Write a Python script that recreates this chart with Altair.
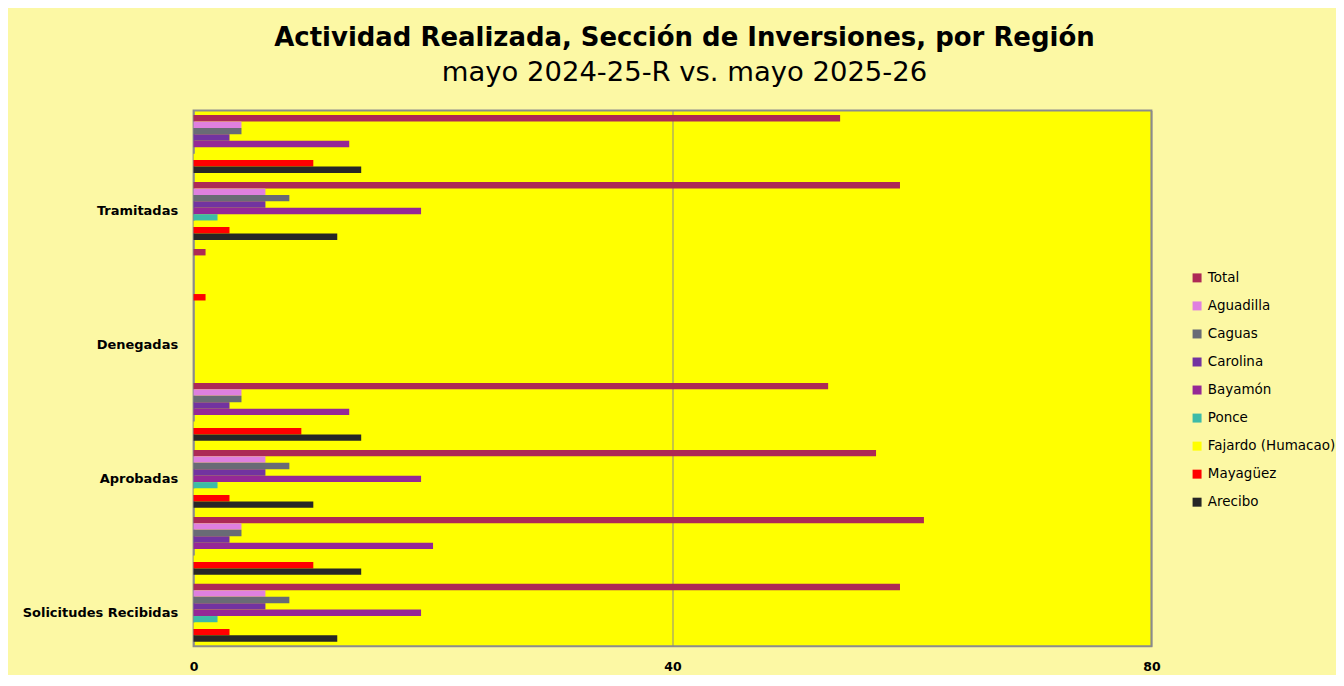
import altair as alt
import pandas as pd

# ---- data ----
categories = ["Solicitudes Recibidas", "Aprobadas", "Denegadas", "Tramitadas"]
periods = ["mayo 2024-25-R", "mayo 2025-26"]

regions = ["Total", "Aguadilla", "Caguas", "Carolina", "Bayamón", "Ponce",
           "Fajardo (Humacao)", "Mayagüez", "Arecibo"]
colors = ["#AD2A55", "#DF80DF", "#696B75", "#7233A0", "#952896", "#3DBBA8",
          "#FFFF00", "#FF0000", "#262626"]

# rows bottom -> top: Sol 24-25, Sol 25-26, Apr 24-25, Apr 25-26,
#                     Den 24-25, Den 25-26, Tra 24-25, Tra 25-26
total     = [59, 61, 57, 53, 0, 1, 59, 54]
aguadilla = [6, 4, 6, 4, 0, 0, 6, 4]
caguas    = [8, 4, 8, 4, 0, 0, 8, 4]
carolina  = [6, 3, 6, 3, 0, 0, 6, 3]
bayamon   = [19, 20, 19, 13, 0, 0, 19, 13]
ponce     = [2, 0, 2, 0, 0, 0, 2, 0]
fajardo   = [3, 6, 3, 6, 0, 0, 3, 6]
mayaguez  = [3, 10, 3, 9, 0, 1, 3, 10]
arecibo   = [12, 14, 10, 14, 0, 0, 12, 14]

x_ticks = [0, 40, 80]

series = [total, aguadilla, caguas, carolina, bayamon, ponce, fajardo, mayaguez, arecibo]
row_keys = [f"{c}|{p}" for c in categories for p in periods]

records = []
for reg, vals in zip(regions, series):
    for key, v in zip(row_keys, vals):
        records.append({"fila": key, "region": reg, "valor": v})
df = pd.DataFrame(records)

row_order_top_down = list(reversed(row_keys))

label_expr = "indexof(datum.label, '2024-25-R') >= 0 ? split(datum.label, '|')[0] : ''"

chart = alt.Chart(df).mark_bar().encode(
    x=alt.X("valor:Q",
            scale=alt.Scale(domain=[0, 80], nice=False),
            axis=alt.Axis(values=x_ticks, title=None, grid=True, gridColor="#8C8C8C",
                          gridWidth=1, ticks=False, domain=False, labelFlush=False,
                          labelFont="DejaVu Sans", labelFontWeight="bold", labelFontSize=12.5,
                          labelColor="#000000", labelPadding=14)),
    y=alt.Y("fila:N", sort=row_order_top_down,
            scale=alt.Scale(paddingInner=0.135, paddingOuter=0.0675),
            axis=alt.Axis(title=None, ticks=False, domain=False, labelExpr=label_expr,
                          labelFont="DejaVu Sans", labelFontWeight="bold", labelFontSize=13,
                          labelColor="#000000", labelPadding=16, labelLimit=300,
                          minExtent=185, maxExtent=185)),
    yOffset=alt.YOffset("region:N", sort=regions,
                        scale=alt.Scale(paddingInner=0, paddingOuter=0)),
    color=alt.Color("region:N", sort=regions,
                    scale=alt.Scale(domain=regions, range=colors),
                    legend=alt.Legend(title=None, orient="none", legendX=999, legendY=161,
                                      symbolType="square", symbolSize=81,
                                      symbolStrokeWidth=0, labelFont="DejaVu Sans",
                                      labelFontSize=13.5, labelColor="#000000",
                                      rowPadding=13.1, labelOffset=4)),
).properties(
    width=960,
    height=537,
    title=alt.TitleParams(
        text="Actividad Realizada, Sección de Inversiones, por Región",
        subtitle="mayo 2024-25-R vs. mayo 2025-26",
        font="DejaVu Sans", fontSize=26, fontWeight="bold", color="#000000",
        subtitleFont="DejaVu Sans", subtitleFontSize=27.5, subtitleColor="#000000",
        subtitlePadding=8, anchor="middle", offset=24.5, dx=12,
    ),
    padding={"left": 1, "top": 16, "right": 0, "bottom": 1},
).configure(
    background="#FCF8A4",
).configure_view(
    fill="#FFFF00", stroke="#8C8C8C", strokeWidth=2,
)

chart.save("out.html", embed_options={"renderer": "svg", "actions": False})
